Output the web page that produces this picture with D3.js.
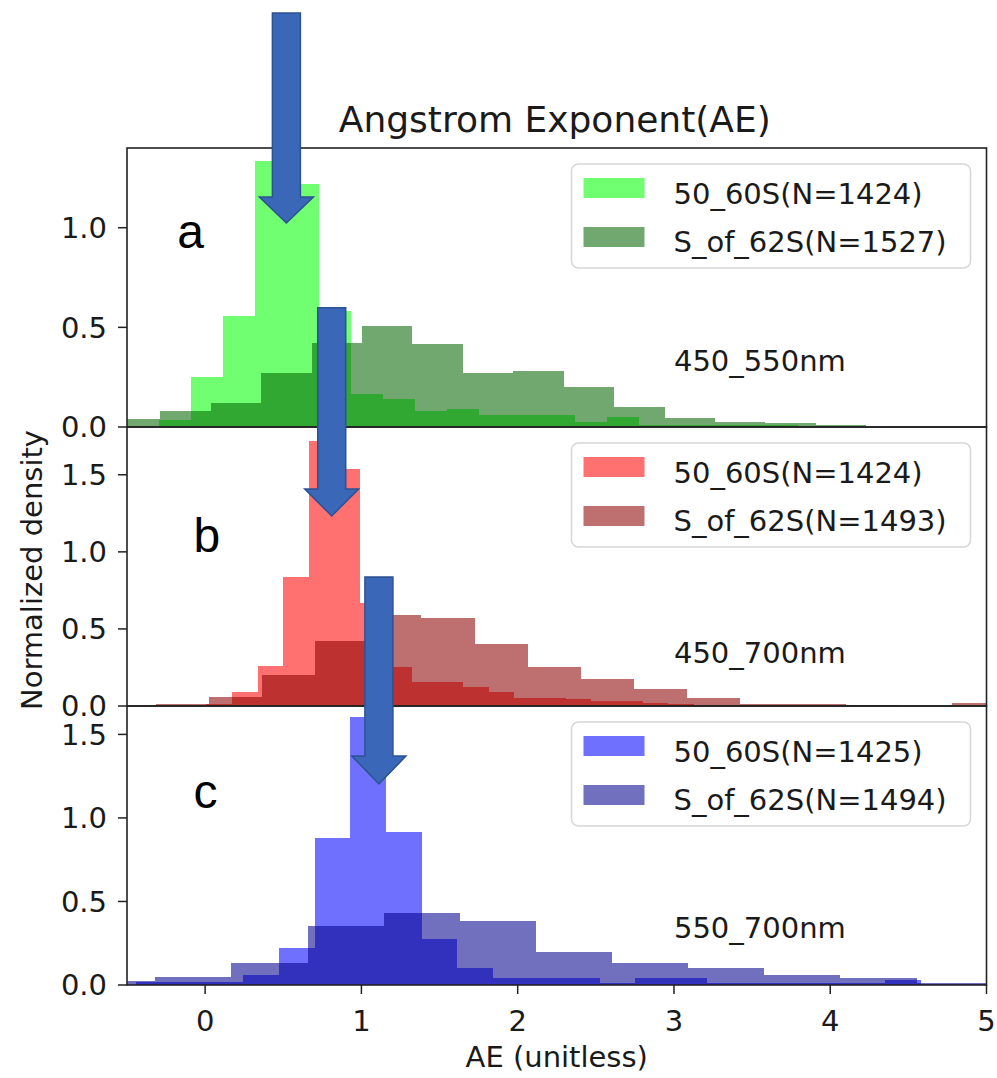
<!DOCTYPE html>
<html>
<head>
<meta charset="utf-8">
<script src="https://cdn.jsdelivr.net/npm/d3@7"></script>
<style>
  body { margin: 0; background: #fff; }
  #chart text { font-family: 'DejaVu Sans', sans-serif; fill: #1a1a1a; }
  #chart .tick-label { font-size: 29px; }
  #chart .legend-label { font-size: 29px; }
  #chart .band-label { font-size: 29px; }
  #chart .title { font-size: 36px; }
  #chart .axis-title { font-size: 29px; }
  #chart .panel-letter { font-family: 'Liberation Sans', Arial, sans-serif; font-size: 48px; fill: #000; }
</style>
</head>
<body>
<div id="chart"></div>
<script>
// Tick values
var xTicks  = [0, 1, 2, 3, 4, 5];
var yTicksA = [0, 0.5, 1.0];
var yTicksB = [0, 0.5, 1.0, 1.5];
var yTicksC = [0, 0.5, 1.0, 1.5];

var panelLetters = ['a', 'b', 'c'];
var bandLabels   = ['450_550nm', '450_700nm', '550_700nm'];
var legendA = ['50_60S(N=1424)', 'S_of_62S(N=1527)'];
var legendB = ['50_60S(N=1424)', 'S_of_62S(N=1493)'];
var legendC = ['50_60S(N=1425)', 'S_of_62S(N=1494)'];

// Histograms: first left bin edge, bin width (AE) and normalized density per bin
var aNearStart = -0.294, aNearWidth = 0.2045;
var aNearDensity = [0.034, 0.25, 0.555, 1.335, 1.217, 0.584, 0.168, 0.143, 0.079, 0.092,
                    0.062, 0.058, 0.062, 0.025, 0.05, 0.012, 0.012, 0.012, 0.008, 0.008];
var aFarStart = -0.610, aFarWidth = 0.3227;
var aFarDensity = [0.042, 0.079, 0.118, 0.273, 0.424, 0.508, 0.416, 0.273, 0.283, 0.202,
                   0.098, 0.045, 0.025, 0.02, 0.01];

var bNearStart = 0.008, bNearWidth = 0.1642;
var bNearDensity = [0.01, 0.093, 0.26, 0.84, 1.72, 1.535, 0.67, 0.255, 0.155, 0.155,
                    0.125, 0.093, 0.052, 0.052, 0.043, 0.035, 0.03, 0.02, 0.015, 0.008,
                    0.006, 0.006, 0.006, 0.006, 0.006, 0.006, 0.006];
var bFarStart = -0.654, bFarWidth = 0.3397;
var bFarDensity = [0.006, 0.01, 0.06, 0.20, 0.424, 0.59, 0.57, 0.40, 0.255, 0.173,
                   0.11, 0.054, 0.015, 0.01, 0.008, 0, 0.02];

var cNearStart = -0.4396, cNearWidth = 0.2281;
var cNearDensity = [0.02, 0.02, 0.02, 0.06, 0.22, 0.878, 1.603, 0.918, 0.274, 0.104,
                    0.044, 0.044, 0.044, 0.014, 0.044, 0.044, 0.014, 0.014, 0.014, 0.014,
                    0.014, 0.03, 0.008, 0.004];
var cFarStart = -0.806, cFarWidth = 0.4871;
var cFarDensity = [0.024, 0.05, 0.13, 0.353, 0.43, 0.385, 0.2, 0.13, 0.104, 0.06,
                   0.04, 0.012];

// Arrows: AE position, top of shaft, base of head, tip (density units of their panel)
var arrowX    = [0.52, 0.81, 1.112];
var arrowTop  = [2.077, 2.583, 2.442];
var arrowBase = [1.154, 1.408, 1.370];
var arrowTip  = [1.024, 1.233, 1.203];

var AEHistograms = function(_id) {

  var that = this;

  that.id = _id;
  that.width  = 997;
  that.height = 1078;
  that.plotLeft  = 127;
  that.plotRight = 986.5;
  that.panelTop  = 148;
  that.panelH    = 279;

  that.panels = [
    { ymax: 1.40, ticks: yTicksA, near: [aNearStart, aNearWidth, aNearDensity], far: [aFarStart, aFarWidth, aFarDensity],
      colors: ['#00ff00', '#006400'], legend: legendA },
    { ymax: 1.81, ticks: yTicksB, near: [bNearStart, bNearWidth, bNearDensity], far: [bFarStart, bFarWidth, bFarDensity],
      colors: ['#ff0000', '#8b0000'], legend: legendB },
    { ymax: 1.67, ticks: yTicksC, near: [cNearStart, cNearWidth, cNearDensity], far: [cFarStart, cFarWidth, cFarDensity],
      colors: ['#0000ff', '#00008b'], legend: legendC }
  ];

  that.init = function() {

    that.svg = d3.select('#' + that.id).append('svg')
      .attr('width', that.width)
      .attr('height', that.height);

    that.x = d3.scaleLinear()
      .domain([-0.5, 5])
      .range([that.plotLeft, that.plotRight]);

    that.panels.forEach(function(p, i) {
      p.top = that.panelTop + i * that.panelH;
      p.bottom = p.top + that.panelH;
      p.y = d3.scaleLinear().domain([0, p.ymax]).range([p.bottom, p.top]);
    });

    that.svg.append('defs').selectAll('clipPath')
      .data(that.panels)
    .enter().append('clipPath')
      .attr('id', function(d, i) { return 'clip' + i; })
      .append('rect')
      .attr('x', that.plotLeft)
      .attr('y', function(d) { return d.top; })
      .attr('width', that.plotRight - that.plotLeft)
      .attr('height', that.panelH);

    that.panels.forEach(drawPanel);
    drawXAxis();
    drawTitles();
    drawArrows();

    return that;
  };

  var binsOf = function(series) {
    var start = series[0], w = series[1];
    return series[2].map(function(v, i) {
      return { x0: start + i * w, x1: start + (i + 1) * w, v: v };
    });
  };

  var drawHist = function(g, p, series, color) {
    g.selectAll(null)
      .data(binsOf(series).filter(function(d) { return d.v > 0; }))
    .enter().append('rect')
      .attr('x', function(d) { return that.x(d.x0); })
      .attr('width', function(d) { return that.x(d.x1) - that.x(d.x0); })
      .attr('y', function(d) { return p.y(d.v); })
      .attr('height', function(d) { return p.bottom - p.y(d.v); })
      .attr('fill', color)
      .attr('fill-opacity', 0.56)
      .attr('shape-rendering', 'crispEdges');
  };

  var drawPanel = function(p, i) {

    var g = that.svg.append('g').attr('class', 'panel');

    var bars = g.append('g').attr('clip-path', 'url(#clip' + i + ')');
    drawHist(bars, p, p.near, p.colors[0]);
    drawHist(bars, p, p.far, p.colors[1]);

    // y axis
    var yAxis = g.append('g').attr('class', 'y axis');
    yAxis.selectAll('line')
      .data(p.ticks)
    .enter().append('line')
      .attr('x1', that.plotLeft - 9)
      .attr('x2', that.plotLeft)
      .attr('y1', function(d) { return p.y(d); })
      .attr('y2', function(d) { return p.y(d); })
      .attr('stroke', '#222')
      .attr('stroke-width', 1.5);
    yAxis.selectAll('text')
      .data(p.ticks)
    .enter().append('text')
      .attr('class', 'tick-label')
      .attr('x', that.plotLeft - 20)
      .attr('y', function(d) { return p.y(d); })
      .attr('dy', '0.36em')
      .attr('text-anchor', 'end')
      .text(d3.format('.1f'));

    // frame
    g.append('rect')
      .attr('x', that.plotLeft)
      .attr('y', p.top)
      .attr('width', that.plotRight - that.plotLeft)
      .attr('height', that.panelH)
      .attr('fill', 'none')
      .attr('stroke', '#222')
      .attr('stroke-width', 1.6);

    // legend
    var lg = g.append('g')
      .attr('transform', 'translate(' + (that.plotRight - 16 - 399) + ',' + (p.top + 16) + ')');
    lg.append('rect')
      .attr('width', 399)
      .attr('height', 104)
      .attr('rx', 7)
      .attr('fill', '#fff')
      .attr('fill-opacity', 0.8)
      .attr('stroke', '#d6d6d6')
      .attr('stroke-width', 1.5);
    p.legend.forEach(function(label, k) {
      lg.append('rect')
        .attr('x', 12)
        .attr('y', 14 + k * 49)
        .attr('width', 61)
        .attr('height', 20)
        .attr('fill', p.colors[k])
        .attr('fill-opacity', 0.56);
      lg.append('text')
        .attr('class', 'legend-label')
        .attr('x', 102)
        .attr('y', 40 + k * 48)
        .text(label);
    });

    // wavelength band
    g.append('text')
      .attr('class', 'band-label')
      .attr('x', that.x(3.0))
      .attr('y', p.y(0.28))
      .text(bandLabels[i]);
  };

  var drawXAxis = function() {
    var p = that.panels[2];
    var ax = that.svg.append('g').attr('class', 'x axis');
    ax.selectAll('line')
      .data(xTicks)
    .enter().append('line')
      .attr('x1', function(d) { return that.x(d); })
      .attr('x2', function(d) { return that.x(d); })
      .attr('y1', p.bottom)
      .attr('y2', p.bottom + 9)
      .attr('stroke', '#222')
      .attr('stroke-width', 1.5);
    ax.selectAll('text')
      .data(xTicks)
    .enter().append('text')
      .attr('class', 'tick-label')
      .attr('x', function(d) { return that.x(d); })
      .attr('y', p.bottom + 46)
      .attr('text-anchor', 'middle')
      .text(function(d) { return d; });
  };

  var drawTitles = function() {
    var mid = (that.plotLeft + that.plotRight) / 2;

    that.svg.append('text')
      .attr('class', 'title')
      .attr('x', mid - 2)
      .attr('y', 132)
      .attr('text-anchor', 'middle')
      .text('Angstrom Exponent(AE)');

    that.svg.append('text')
      .attr('class', 'axis-title')
      .attr('x', mid)
      .attr('y', 1067)
      .attr('text-anchor', 'middle')
      .text('AE (unitless)');

    that.svg.append('text')
      .attr('class', 'axis-title')
      .attr('transform', 'translate(42,570) rotate(-90)')
      .attr('text-anchor', 'middle')
      .text('Normalized density');

    // panel letters
    var letterPos = [[-0.179, 0.898], [-0.075, 1.0], [-0.075, 1.06]];
    that.panels.forEach(function(p, i) {
      that.svg.append('text')
        .attr('class', 'panel-letter')
        .attr('x', that.x(letterPos[i][0]))
        .attr('y', p.y(letterPos[i][1]))
        .text(panelLetters[i]);
    });
  };

  var drawArrows = function() {
    var shaft = 14, head = 27;
    that.panels.forEach(function(p, i) {
      var cx = that.x(arrowX[i]);
      var top = p.y(arrowTop[i]), base = p.y(arrowBase[i]), tip = p.y(arrowTip[i]);
      var pts = [
        [cx - shaft, top], [cx + shaft, top], [cx + shaft, base], [cx + head, base],
        [cx, tip], [cx - head, base], [cx - shaft, base]
      ];
      that.svg.append('path')
        .attr('d', d3.line()(pts) + 'Z')
        .attr('fill', '#3a67b7')
        .attr('stroke', '#2c5291')
        .attr('stroke-width', 1.5)
        .attr('stroke-linejoin', 'miter');
    });
  };

  return that;
};

var chart = new AEHistograms('chart');
chart.init();
</script>
</body>
</html>
